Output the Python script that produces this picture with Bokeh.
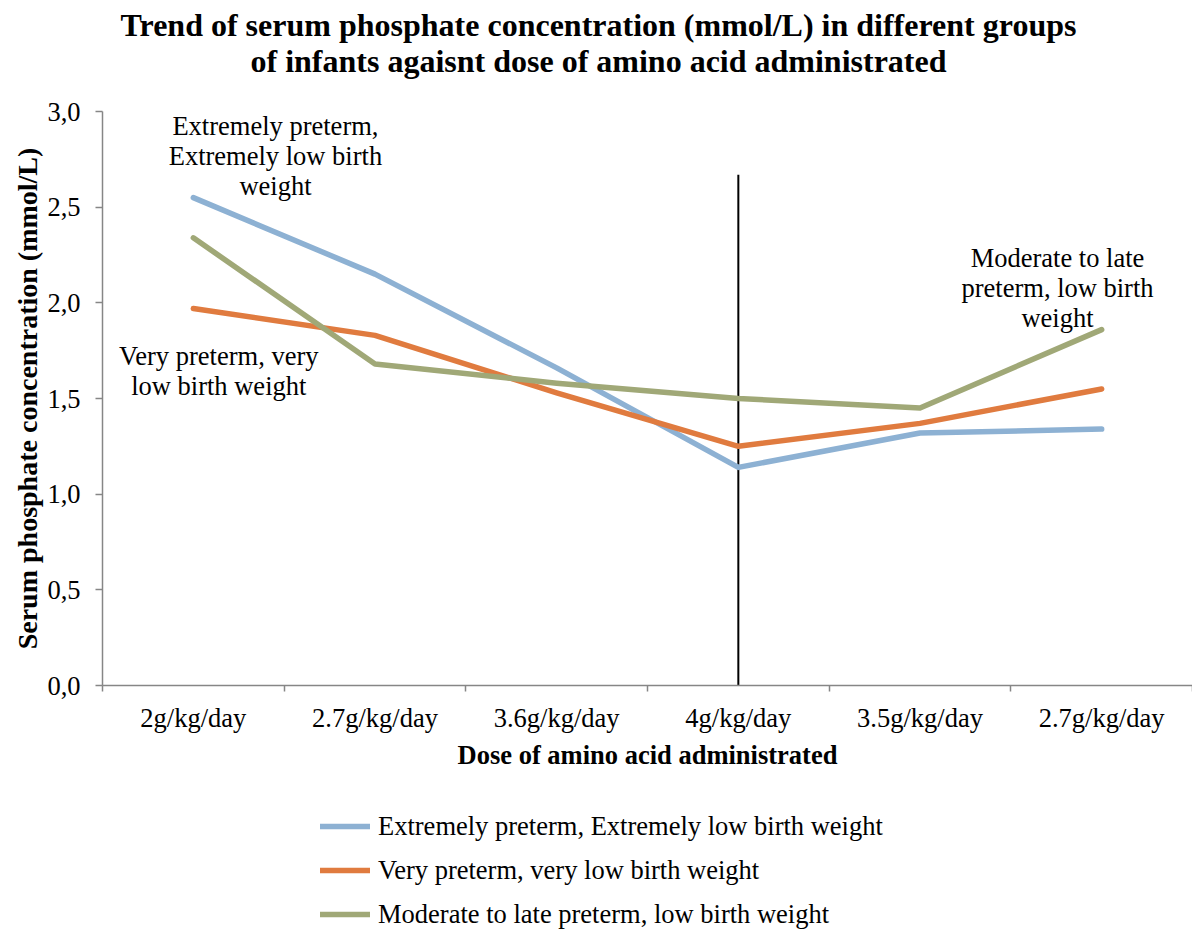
from bokeh.plotting import figure
from bokeh.layouts import column
from bokeh.models import Range1d, FixedTicker, Label, Legend, LegendItem
from bokeh.embed import file_html
from bokeh.resources import INLINE

# Amino acid dose for each consecutive measurement
doses = ["2g/kg/day", "2.7g/kg/day", "3.6g/kg/day", "4g/kg/day", "3.5g/kg/day", "2.7g/kg/day"]

# Serum phosphate (mmol/L) per group
extremely_preterm = [2.55, 2.15, 1.66, 1.14, 1.32, 1.34]
very_preterm = [1.97, 1.83, 1.53, 1.25, 1.37, 1.55]
moderate_late = [2.34, 1.68, 1.58, 1.50, 1.45, 1.86]

series_names = [
    "Extremely preterm, Extremely low birth weight",
    "Very preterm, very low birth weight",
    "Moderate to late preterm, low birth weight",
]
series_colors = ["#8DB1D3", "#E07B3F", "#A0A877"]

y_ticks = [0.0, 0.5, 1.0, 1.5, 2.0, 2.5, 3.0]
peak_dose_index = 3
peak_line_top = 2.67

TITLE = ("Trend of serum phosphate concentration (mmol/L) in different groups\n"
         "of infants agaisnt dose of amino acid administrated")

SERIF = "Liberation Serif"
GREY = "#868686"
W = 1192
LEFT = 102          # width reserved for the y axis; column() lines all frames up to it
TEXT_PX = "26.5px"

all_values = [extremely_preterm, very_preterm, moderate_late]
x_pos = [i + 0.5 for i in range(len(doses))]


def bare_figure(height):
    # frame spans page x = LEFT..W, so its x range is expressed in page pixels
    f = figure(width=W, height=height, title=None, x_axis_type=None, y_axis_type=None,
               x_range=Range1d(LEFT, W), y_range=Range1d(0, height),
               output_backend="svg", toolbar_location=None,
               min_border_left=LEFT, min_border_right=0, min_border_top=0, min_border_bottom=0)
    f.outline_line_color = None
    f.xgrid.visible = False
    f.ygrid.visible = False
    return f


# ---- title strip ----
TITLE_H = 91
head = bare_figure(TITLE_H)
head.add_layout(Label(
    x=598, y=TITLE_H - 6, text=TITLE, text_align="center", text_baseline="top",
    text_font=SERIF, text_font_size="32px", text_font_style="bold",
    text_color="black", text_line_height=1.0,
))

# ---- main chart ----
p = figure(
    width=W, height=699, title=None,
    x_range=Range1d(0, len(doses)), y_range=Range1d(0, y_ticks[-1]),
    output_backend="svg", toolbar_location=None,
    min_border_left=LEFT, min_border_right=0, min_border_top=20, min_border_bottom=105,
)
p.outline_line_color = None
p.xgrid.visible = False
p.ygrid.visible = False

# x axis: labels at category centres, tick marks on category boundaries
xa = p.xaxis[0]
xa.ticker = FixedTicker(ticks=x_pos, minor_ticks=list(range(len(doses) + 1)))
xa.major_label_overrides = {xv: d for xv, d in zip(x_pos, doses)}
xa.major_tick_line_color = None
xa.major_tick_out = 6
xa.minor_tick_line_color = GREY
xa.minor_tick_line_width = 1.5
xa.minor_tick_out = 6
xa.minor_tick_in = 0
xa.axis_line_color = GREY
xa.axis_line_width = 1.5
xa.major_label_text_font = SERIF
xa.major_label_text_font_size = TEXT_PX
xa.major_label_text_color = "black"
xa.major_label_standoff = 11
xa.axis_label = "Dose of amino acid administrated"
xa.axis_label_text_font = SERIF
xa.axis_label_text_font_style = "bold"
xa.axis_label_text_font_size = TEXT_PX
xa.axis_label_text_color = "black"
xa.axis_label_standoff = 4

ya = p.yaxis[0]
ya.ticker = FixedTicker(ticks=y_ticks)
ya.major_label_overrides = {t: f"{t:.1f}".replace(".", ",") for t in y_ticks}
ya.major_tick_line_color = GREY
ya.major_tick_line_width = 1.5
ya.major_tick_out = 7
ya.major_tick_in = 0
ya.minor_tick_line_color = None
ya.axis_line_color = GREY
ya.axis_line_width = 1.5
ya.major_label_text_font = SERIF
ya.major_label_text_font_size = TEXT_PX
ya.major_label_text_color = "black"
ya.major_label_standoff = 15
ya.axis_label = "Serum phosphate concentration (mmol/L)"
ya.axis_label_text_font = SERIF
ya.axis_label_text_font_style = "bold"
ya.axis_label_text_font_size = "28px"
ya.axis_label_text_color = "black"
ya.axis_label_standoff = 1

# vertical marker at the highest dose
p.segment(x0=[x_pos[peak_dose_index]], y0=[0], x1=[x_pos[peak_dose_index]], y1=[peak_line_top],
          line_color="black", line_width=2)

for color, values in zip(series_colors, all_values):
    p.line(x_pos, values, line_color=color, line_width=5.5,
           line_join="round", line_cap="round")


def note(xv, yv, text):
    p.add_layout(Label(
        x=xv, y=yv, text=text, text_align="center", text_baseline="top",
        text_font=SERIF, text_font_size=TEXT_PX, text_color="black",
        text_line_height=1.0,
    ))


note(0.952, 3.005, "Extremely preterm,\nExtremely low birth\nweight")
note(0.64, 1.8, "Very preterm, very\nlow birth weight")
note(5.257, 2.315, "Moderate to late\npreterm, low birth\nweight")

# ---- legend strip ----
LEG_H = 141
foot = bare_figure(LEG_H)
items = []
for name, color, values in zip(series_names, series_colors, all_values):
    # hidden copies of the series: they only supply the legend swatches
    r = foot.line(x_pos, values, line_color=color, line_width=5.5, line_cap="round",
                  visible=False)
    items.append(LegendItem(label=name, renderers=[r]))
foot.add_layout(Legend(
    items=items, orientation="vertical", location=(320 - LEFT, 0),
    label_text_font=SERIF, label_text_font_size=TEXT_PX, label_text_color="black",
    glyph_width=50, glyph_height=20, label_standoff=8, label_height=34, spacing=10,
    padding=0, margin=0, border_line_color=None, background_fill_alpha=0,
    click_policy="none", inactive_fill_alpha=0,
))

layout = column(head, p, foot, spacing=0)
open("out.html", "w").write(file_html(layout, INLINE))
